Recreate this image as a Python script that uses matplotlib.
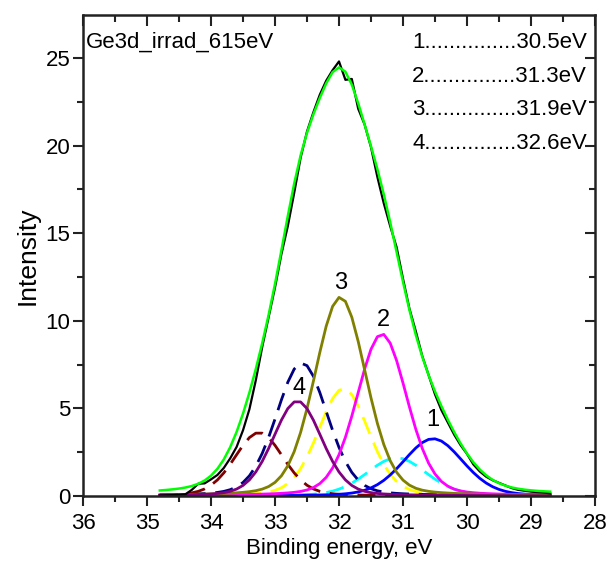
import numpy as np
import matplotlib
matplotlib.use("Agg")
import matplotlib.pyplot as plt

plt.rcParams['font.family'] = ['Liberation Sans', 'DejaVu Sans']

# ---- data -------------------------------------------------------------
# experimental spectrum (binding energy, intensity)
data_energy = [34.8, 34.6, 34.4, 34.3, 34.2, 34.1, 34.0, 33.9, 33.8, 33.7,
               33.6, 33.5, 33.4, 33.3, 33.2, 33.1, 33.0, 32.9, 32.8, 32.7,
               32.6, 32.5, 32.4, 32.3, 32.2, 32.1, 32.0, 31.9, 31.8, 31.7,
               31.6, 31.5, 31.4, 31.3, 31.2, 31.1, 31.0, 30.9, 30.8, 30.7,
               30.6, 30.5, 30.4, 30.3, 30.2, 30.1, 30.0, 29.9, 29.8, 29.7,
               29.6, 29.5, 29.4, 29.3, 29.2, 29.1, 29.0, 28.9, 28.8, 28.7]
data_intensity = [0.03, 0.05, 0.10, 0.35, 0.70, 0.72, 0.95, 1.20, 1.60, 2.15,
                  2.80, 3.75, 4.95, 6.60, 8.50, 10.2, 11.9, 13.8, 15.4, 17.3,
                  19.3, 20.8, 21.9, 22.9, 23.7, 24.3, 24.8, 23.75, 23.8, 22.1,
                  21.2, 19.9, 18.2, 16.7, 15.4, 14.2, 12.4, 10.7, 9.4, 8.0,
                  6.9, 5.8, 4.9, 4.2, 3.5, 2.9, 2.4, 1.8, 1.4, 1.1,
                  0.9, 0.75, 0.6, 0.45, 0.35, 0.30, 0.25, 0.22, 0.20, 0.15]

# fitted components (solid: peaks 1-4, dashed: partner peaks)
peak_labels = ['1', '2', '3', '4']
peak_centers = [30.53, 31.33, 31.98, 32.65]
peak_heights = [3.27, 9.25, 11.35, 5.42]
peak_fwhm = [1.10, 0.93, 0.95, 0.90]
peak_colors = ['#0000FF', '#FF00FF', '#808000', '#800080']

partner_centers = [31.10, 31.93, 32.58, 33.25]
partner_heights = [2.18, 6.14, 7.6, 3.62]
partner_colors = ['#00FFFF', '#FFFF00', '#000080', '#800000']
lorentz_fraction = 0.2
fit_range = (34.8, 28.7)

legend_lines = ['1...............30.5eV', '2...............31.3eV',
                '3...............31.9eV', '4...............32.6eV']
title_text = 'Ge3d_irrad_615eV'
x_ticks = [36, 35, 34, 33, 32, 31, 30, 29, 28]
y_ticks = [0, 5, 10, 15, 20, 25]


def pseudo_voigt(x, c, h, w, eta):
    g = np.exp(-4 * np.log(2) * ((x - c) / w) ** 2)
    l = 1.0 / (1.0 + ((x - c) / (w / 2)) ** 2)
    return h * (eta * l + (1 - eta) * g)


fig = plt.figure(figsize=(6.12, 5.63), dpi=100)
ax = fig.add_axes([83 / 612, 67 / 563, 512 / 612, 481 / 563])

grid = np.arange(fit_range[0], fit_range[1] - 0.001, -0.1)
envelope = np.zeros_like(grid)

comps = []
for c, h, w, col in zip(peak_centers, peak_heights, peak_fwhm, peak_colors):
    y = pseudo_voigt(grid, c, h, w, lorentz_fraction)
    envelope += y
    comps.append((y, col, '-'))
for c, h, w, col in zip(partner_centers, partner_heights, peak_fwhm, partner_colors):
    y = pseudo_voigt(grid, c, h, w, lorentz_fraction)
    envelope += y
    comps.append((y, col, '--'))

for y, col, ls in comps[4:]:
    ax.plot(grid, y, color=col, lw=2, ls=ls, dashes=(6.5, 3.5))
for y, col, ls in comps[:4]:
    ax.plot(grid, y, color=col, lw=2, ls=ls)

ax.plot(data_energy, data_intensity, color='black', lw=1.6)
ax.plot(grid, envelope, color='#00FF00', lw=1.8)

# peak number labels
label_pos = [(30.53, 4.35), (31.31, 10.05), (31.98, 12.15), (32.63, 6.15)]
for lab, (lx, ly) in zip(peak_labels, label_pos):
    ax.text(lx, ly, lab, fontsize=17, ha='center', va='center')

ax.text(0.006, 0.944, title_text, transform=ax.transAxes, fontsize=16,
        ha='left', va='center')
for i, line in enumerate(legend_lines):
    ax.text(0.984, 0.942 - i * 0.0697, line, transform=ax.transAxes,
            fontsize=16, ha='right', va='center')

ax.set_xlim(36, 28)
ax.set_ylim(0, 27.45)
ax.set_xticks(x_ticks)
ax.set_xticks(np.arange(28, 36.01, 0.5), minor=True)
ax.set_yticks(y_ticks)
ax.set_yticks(np.arange(0, 27.5, 2.5), minor=True)
ax.tick_params(axis='both', which='major', labelsize=16, width=1.5,
               length=7, direction='out', color='#222222')
ax.tick_params(axis='both', which='minor', width=1.5, length=4,
               direction='out', color='#222222')
ax.tick_params(axis='x', pad=5)
ax.tick_params(axis='y', pad=2)

# ticks on top and right pointing inward (via secondary axes)
secx = ax.secondary_xaxis('top')
secx.set_xticks(x_ticks)
secx.set_xticks(np.arange(28, 36.01, 0.5), minor=True)
secx.tick_params(which='major', direction='in', length=8, width=1.5, color='#222222')
secx.tick_params(which='minor', direction='in', length=5, width=1.5, color='#222222')
secx.set_xticklabels([])
secy = ax.secondary_yaxis('right')
secy.set_yticks(y_ticks)
secy.set_yticks(np.arange(0, 27.5, 2.5), minor=True)
secy.tick_params(which='major', direction='in', length=7, width=1.5, color='#222222')
secy.tick_params(which='minor', direction='in', length=4, width=1.5, color='#222222')
secy.set_yticklabels([])
for s in [secx.spines['top'], secy.spines['right']]:
    s.set_visible(False)

for s in ax.spines.values():
    s.set_linewidth(1.8)
    s.set_color('#222222')

ax.set_xlabel('Binding energy, eV', fontsize=16, labelpad=3)
ax.set_ylabel('Intensity', fontsize=19, labelpad=4)

fig.savefig('out.png', dpi=100)
